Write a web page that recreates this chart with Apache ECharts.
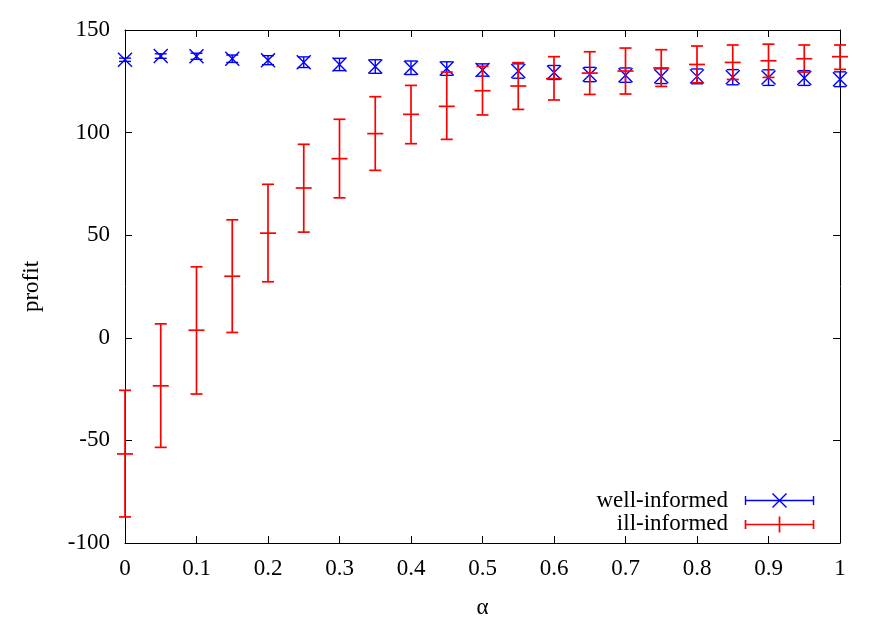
<!DOCTYPE html>
<html><head><meta charset="utf-8">
<script src="https://cdn.jsdelivr.net/npm/echarts@6/dist/echarts.min.js"></script>
<style>html,body{margin:0;padding:0;background:#fff}#c{width:882px;height:617px}</style>
</head><body><div id="c"></div>
<script>
// ---- data ----
const alpha = [0,0.05,0.1,0.15,0.2,0.25,0.3,0.35,0.4,0.45,0.5,0.55,0.6,0.65,0.7,0.75,0.8,0.85,0.9,0.95,1.0];
const wellMean = [135.5,137.3,137.2,136.0,135.3,134.3,133.2,132.2,131.6,131.2,130.5,130.0,129.3,128.3,128.0,127.5,127.4,127.0,126.8,126.6,126.0];
const wellErr  = [0.8,1.1,1.5,1.8,2.2,2.6,3.0,3.3,3.3,3.3,3.0,3.5,3.4,3.5,3.5,3.6,3.6,3.7,3.8,3.6,3.6];
const illMean  = [-56.6,-23.4,3.7,30.0,51.0,73.0,87.3,99.5,108.9,112.8,120.4,122.7,126.3,129.0,130.0,131.5,133.2,134.2,135.0,136.0,137.0];
const illLow   = [-87.3,-53.4,-27.4,2.6,27.3,51.5,68.2,81.6,94.6,96.7,108.6,111.3,115.9,118.6,118.8,122.5,124.3,125.9,126.9,129.5,130.8];
const illHigh  = [-25.6,6.8,34.6,57.5,74.8,94.3,106.5,117.5,123.0,129.5,132.3,134.1,137.0,139.4,141.2,140.4,142.2,142.7,143.1,142.7,142.7];
const xTicks = [0,0.1,0.2,0.3,0.4,0.5,0.6,0.7,0.8,0.9,1];
const yTicks = [-100,-50,0,50,100,150];
const seriesNames = ['well-informed','ill-informed'];
const xName = 'α';
const yName = 'profit';

// ---- build ----
const FONT = 'Liberation Serif';
const FS = 23;
const BLUE = '#0000ff', RED = '#ff0000';

const wellData = alpha.map((a,i)=>[a, wellMean[i], wellMean[i]-wellErr[i], wellMean[i]+wellErr[i]]);
const illData  = alpha.map((a,i)=>[a, illMean[i], illLow[i], illHigh[i]]);

function makeRender(kind){
  return function(params, api){
    const x = api.value(0), y = api.value(1), lo = api.value(2), hi = api.value(3);
    const c = api.coord([x,y]), cl = api.coord([x,lo]), ch = api.coord([x,hi]);
    const color = kind==='well' ? BLUE : RED;
    const lw = kind==='well' ? 1.4 : 1.7;
    const cap = 6;
    const st = {stroke:color, lineWidth:lw};
    const ch_ = [
      {type:'line', shape:{x1:c[0],y1:cl[1],x2:c[0],y2:ch[1]}, style:st},
      {type:'line', shape:{x1:c[0]-cap,y1:cl[1],x2:c[0]+cap,y2:cl[1]}, style:st},
      {type:'line', shape:{x1:c[0]-cap,y1:ch[1],x2:c[0]+cap,y2:ch[1]}, style:st}
    ];
    if(kind==='well'){
      const m = 7;
      ch_.push({type:'line', shape:{x1:c[0]-m,y1:c[1]-m,x2:c[0]+m,y2:c[1]+m}, style:st});
      ch_.push({type:'line', shape:{x1:c[0]-m,y1:c[1]+m,x2:c[0]+m,y2:c[1]-m}, style:st});
    } else {
      const m = 8;
      ch_.push({type:'line', shape:{x1:c[0]-m,y1:c[1],x2:c[0]+m,y2:c[1]}, style:st});
    }
    return {type:'group', children:ch_};
  };
}

const axisCommon = {
  axisLine:{show:true, onZero:false, lineStyle:{color:'#000', width:1}},
  axisTick:{show:true, inside:true, length:7, lineStyle:{color:'#000', width:1}},
  splitLine:{show:false}
};

const chart = echarts.init(document.getElementById('c'), null, {renderer:'canvas'});
const option = {
  animation:false,
  backgroundColor:'#fff',
  grid:{left:125, right:42, top:30, bottom:74, containLabel:false, outerBoundsMode:'none'},
  xAxis:[
    Object.assign({type:'value', position:'bottom', min:xTicks[0], max:xTicks[xTicks.length-1], interval:0.1,
      name:xName, nameLocation:'middle', nameGap:53,
      nameTextStyle:{fontFamily:FONT, fontSize:FS, color:'#000'},
      axisLabel:{fontFamily:FONT, fontSize:FS, color:'#000', margin:14}}, axisCommon),
    Object.assign({type:'value', position:'top', min:xTicks[0], max:xTicks[xTicks.length-1], interval:0.1,
      axisLabel:{show:false}}, axisCommon)
  ],
  yAxis:[
    Object.assign({type:'value', position:'left', min:yTicks[0], max:yTicks[yTicks.length-1], interval:50,
      name:yName, nameLocation:'middle', nameGap:82, nameRotate:90,
      nameTextStyle:{fontFamily:FONT, fontSize:FS, color:'#000'},
      axisLabel:{fontFamily:FONT, fontSize:FS, color:'#000', margin:15}}, axisCommon),
    Object.assign({type:'value', position:'right', min:yTicks[0], max:yTicks[yTicks.length-1], interval:50,
      axisLabel:{show:false}}, axisCommon)
  ],
  series:[
    {type:'custom', name:seriesNames[0], renderItem:makeRender('well'), data:wellData, clip:false,
      encode:{x:0, y:[1,2,3]}, z:3},
    {type:'custom', name:seriesNames[1], renderItem:makeRender('ill'), data:illData, clip:false,
      encode:{x:0, y:[1,2,3]}, z:4}
  ],
  graphic:[
    {type:'text', right:882-728, top:489, style:{text:seriesNames[0], fontFamily:FONT, fontSize:FS, fill:'#000', textAlign:'right'}},
    {type:'text', right:882-728, top:512, style:{text:seriesNames[1], fontFamily:FONT, fontSize:FS, fill:'#000', textAlign:'right'}},
    {type:'group', left:743, top:491, children:[
      {type:'line', shape:{x1:0,y1:8,x2:68,y2:8}, style:{stroke:BLUE, lineWidth:1.4}},
      {type:'line', shape:{x1:0,y1:3.5,x2:0,y2:12.5}, style:{stroke:BLUE, lineWidth:1.4}},
      {type:'line', shape:{x1:68,y1:3.5,x2:68,y2:12.5}, style:{stroke:BLUE, lineWidth:1.4}},
      {type:'line', shape:{x1:27,y1:1,x2:41,y2:15}, style:{stroke:BLUE, lineWidth:1.4}},
      {type:'line', shape:{x1:27,y1:15,x2:41,y2:1}, style:{stroke:BLUE, lineWidth:1.4}}
    ]},
    {type:'group', left:743, top:514, children:[
      {type:'line', shape:{x1:0,y1:8,x2:68,y2:8}, style:{stroke:RED, lineWidth:1.7}},
      {type:'line', shape:{x1:0,y1:3.5,x2:0,y2:12.5}, style:{stroke:RED, lineWidth:1.7}},
      {type:'line', shape:{x1:68,y1:3.5,x2:68,y2:12.5}, style:{stroke:RED, lineWidth:1.7}},
      {type:'line', shape:{x1:34,y1:0,x2:34,y2:16}, style:{stroke:RED, lineWidth:1.7}}
    ]}
  ]
};
chart.setOption(option);
</script>
</body></html>
